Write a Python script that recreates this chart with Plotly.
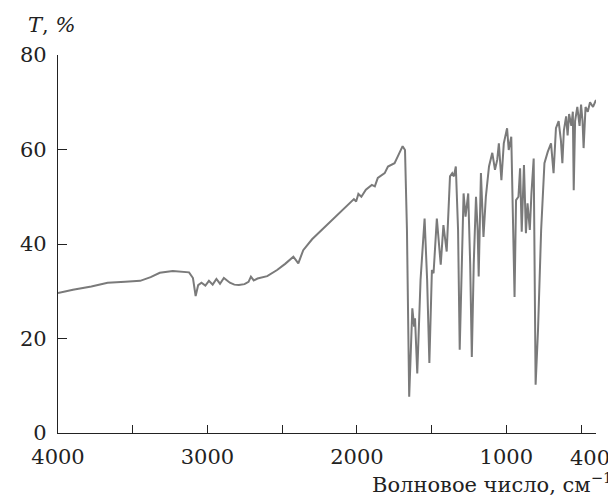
import plotly.graph_objects as go

# IR spectrum: wavenumber (cm^-1) and transmittance (%)
wavenumber = [4000, 3900, 3777, 3668, 3550, 3450, 3380, 3319, 3232, 3160, 3123, 3097, 3079, 3062,
              3040, 3014, 2990, 2965, 2940, 2916, 2890, 2850, 2820, 2790, 2752, 2725, 2709, 2690,
              2665, 2600, 2534, 2480, 2425, 2392, 2359, 2300, 2200, 2100, 2050, 2020, 2005, 1990,
              1970, 1940, 1900, 1880, 1860, 1814, 1792, 1748, 1727, 1694, 1678, 1665, 1650, 1629,
              1617, 1611, 1596, 1574, 1547, 1530, 1515, 1498, 1487, 1465, 1439, 1421, 1399, 1377,
              1362, 1351, 1338, 1323, 1312, 1301, 1286, 1273, 1255, 1242, 1231, 1218, 1203, 1192,
              1185, 1170, 1153, 1137, 1116, 1094, 1076, 1061, 1050, 1033, 1017, 995, 984, 967,
              958, 945, 935, 919, 908, 897, 882, 869, 858, 843, 832, 817, 804, 788, 767, 745,
              723, 701, 684, 668, 650, 635, 625, 615, 600, 590, 580, 565, 555, 549, 540, 525,
              510, 500, 490, 483, 470, 455, 440, 420, 400]
transmittance = [29.6, 30.3, 31.0, 31.8, 32.0, 32.2, 33.0, 33.9, 34.3, 34.2, 34.0, 32.8, 29.0, 31.3,
                 31.8, 31.2, 32.2, 31.4, 32.6, 31.6, 32.8, 31.8, 31.4, 31.3, 31.5, 32.0, 33.1, 32.3,
                 32.7, 33.2, 34.5, 35.8, 37.3, 35.9, 38.7, 41.0, 44.0, 47.0, 48.5, 49.5, 49.0, 50.6,
                 50.0, 51.5, 52.5, 52.2, 54.0, 55.0, 56.4, 57.1, 58.5, 60.7, 59.9, 43.0, 7.7, 26.4,
                 22.5, 24.3, 12.6, 32.4, 45.4, 32.4, 14.8, 34.5, 33.8, 45.4, 35.6, 44.0, 38.4, 54.3,
                 55.0, 54.3, 56.4, 43.0, 17.6, 32.4, 50.7, 45.8, 50.7, 35.9, 16.1, 35.9, 50.0, 43.0,
                 33.1, 55.0, 41.5, 50.0, 56.4, 59.3, 55.7, 57.8, 61.3, 53.5, 61.3, 64.5, 59.9, 62.7,
                 50.0, 28.8, 49.3, 50.0, 56.0, 42.6, 56.7, 42.3, 48.6, 43.0, 50.7, 58.1, 10.2, 21.8, 43.0, 57.1,
                 59.5, 61.3, 55.0, 64.5, 66.0, 62.0, 57.1, 64.0, 67.0, 63.0, 67.5, 65.0, 68.0, 51.4, 66.0, 69.0,
                 65.0, 69.5, 66.0, 60.3, 69.0, 68.0, 70.0, 69.0, 70.5]

x_tickvals = [4000, 3500, 3000, 2500, 2000, 1500, 1000, 500, 400]
x_ticktext = ["4000", "", "3000", "", "2000", "", "1000", "", ""]
x_end_value = 400
x_end_label = "400"
y_tickvals = [0, 20, 40, 60, 80]

FONT = "DejaVu Serif"
fig = go.Figure()
fig.add_trace(go.Scatter(x=wavenumber, y=transmittance, mode="lines",
                         line=dict(color="#7a7a7a", width=2), showlegend=False))

# page body has an 8px default margin, so the figure is 8px smaller and shifted
fig.update_layout(
    width=608, height=489,
    margin=dict(l=38, r=20, t=47, b=64),
    paper_bgcolor="white", plot_bgcolor="white",
    font=dict(family=FONT, size=21, color="#222"),
    xaxis=dict(range=[4000, 400], tickvals=x_tickvals, ticktext=x_ticktext,
               showline=True, linecolor="#222", linewidth=1.2, ticks="inside", ticklen=8,
               tickcolor="#222", showgrid=False, zeroline=False, ticklabelstandoff=5,
               tickfont=dict(family=FONT, size=21, color="#222")),
    yaxis=dict(range=[0, 80], tickvals=y_tickvals, showline=True, linecolor="#222",
               linewidth=1.2, ticks="inside", ticklen=9, tickcolor="#222", showgrid=False,
               zeroline=False, ticklabelstandoff=6,
               tickfont=dict(family=FONT, size=21, color="#222")),
    annotations=[
        dict(text="<i>T</i>, <i>%</i>", xref="paper", yref="paper", x=-33/550, y=1 + 30/378,
             xanchor="left", yanchor="middle", showarrow=False,
             font=dict(family=FONT, size=21, color="#222")),
        dict(text=x_end_label, xref="x", yref="paper", x=x_end_value, xshift=-6,
             y=-(458 - 433) / 378, xanchor="center", yanchor="middle", showarrow=False,
             font=dict(family=FONT, size=21, color="#222")),
        dict(text="Волновое число, см<sup>−1</sup>", xref="paper", yref="paper",
             x=(614 - 46) / 550, y=-(483 - 433) / 378, xanchor="right", yanchor="middle",
             showarrow=False, font=dict(family=FONT, size=21, color="#222")),
    ],
)
fig.write_html("out.html")
